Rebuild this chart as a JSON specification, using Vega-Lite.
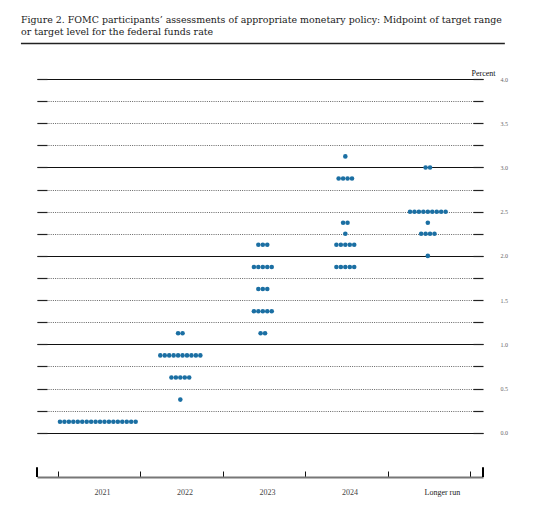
{
  "$schema": "https://vega.github.io/schema/vega-lite/v6.json",
  "width": 446,
  "height": 398,
  "autosize": {"type": "none"},
  "padding": {"left": 37, "top": 79, "right": 53, "bottom": 36},
  "background": "#ffffff",
  "title": {
    "text": ["Figure 2.  FOMC participants’ assessments of appropriate monetary policy:  Midpoint of target range", "or target level for the federal funds rate"],
    "anchor": "start",
    "frame": "group",
    "dx": -16,
    "offset": 5,
    "font": "DejaVu Serif",
    "fontSize": 9.45,
    "fontWeight": "normal",
    "lineHeight": 12,
    "color": "#1a1a1a"
  },
  "config": {"view": {"stroke": null}, "font": "Liberation Serif"},
  "resolve": {"scale": {"x": "independent"}, "axis": {"x": "independent", "y": "independent"}},
  "layer": [
    {
      "data": {"values": [
        {"period": "2021", "rate": 0.125}, {"period": "2021", "rate": 0.125}, {"period": "2021", "rate": 0.125},
        {"period": "2021", "rate": 0.125}, {"period": "2021", "rate": 0.125}, {"period": "2021", "rate": 0.125},
        {"period": "2021", "rate": 0.125}, {"period": "2021", "rate": 0.125}, {"period": "2021", "rate": 0.125},
        {"period": "2021", "rate": 0.125}, {"period": "2021", "rate": 0.125}, {"period": "2021", "rate": 0.125},
        {"period": "2021", "rate": 0.125}, {"period": "2021", "rate": 0.125}, {"period": "2021", "rate": 0.125},
        {"period": "2021", "rate": 0.125}, {"period": "2021", "rate": 0.125}, {"period": "2021", "rate": 0.125},
        {"period": "2022", "rate": 1.125}, {"period": "2022", "rate": 1.125},
        {"period": "2022", "rate": 0.875}, {"period": "2022", "rate": 0.875}, {"period": "2022", "rate": 0.875},
        {"period": "2022", "rate": 0.875}, {"period": "2022", "rate": 0.875}, {"period": "2022", "rate": 0.875},
        {"period": "2022", "rate": 0.875}, {"period": "2022", "rate": 0.875}, {"period": "2022", "rate": 0.875},
        {"period": "2022", "rate": 0.875},
        {"period": "2022", "rate": 0.625}, {"period": "2022", "rate": 0.625}, {"period": "2022", "rate": 0.625},
        {"period": "2022", "rate": 0.625}, {"period": "2022", "rate": 0.625},
        {"period": "2022", "rate": 0.375},
        {"period": "2023", "rate": 2.125}, {"period": "2023", "rate": 2.125}, {"period": "2023", "rate": 2.125},
        {"period": "2023", "rate": 1.875}, {"period": "2023", "rate": 1.875}, {"period": "2023", "rate": 1.875},
        {"period": "2023", "rate": 1.875}, {"period": "2023", "rate": 1.875},
        {"period": "2023", "rate": 1.625}, {"period": "2023", "rate": 1.625}, {"period": "2023", "rate": 1.625},
        {"period": "2023", "rate": 1.375}, {"period": "2023", "rate": 1.375}, {"period": "2023", "rate": 1.375},
        {"period": "2023", "rate": 1.375}, {"period": "2023", "rate": 1.375},
        {"period": "2023", "rate": 1.125}, {"period": "2023", "rate": 1.125},
        {"period": "2024", "rate": 3.125},
        {"period": "2024", "rate": 2.875}, {"period": "2024", "rate": 2.875}, {"period": "2024", "rate": 2.875},
        {"period": "2024", "rate": 2.875},
        {"period": "2024", "rate": 2.375}, {"period": "2024", "rate": 2.375},
        {"period": "2024", "rate": 2.25},
        {"period": "2024", "rate": 2.125}, {"period": "2024", "rate": 2.125}, {"period": "2024", "rate": 2.125},
        {"period": "2024", "rate": 2.125}, {"period": "2024", "rate": 2.125},
        {"period": "2024", "rate": 1.875}, {"period": "2024", "rate": 1.875}, {"period": "2024", "rate": 1.875},
        {"period": "2024", "rate": 1.875}, {"period": "2024", "rate": 1.875},
        {"period": "Longer run", "rate": 3.0}, {"period": "Longer run", "rate": 3.0},
        {"period": "Longer run", "rate": 2.5}, {"period": "Longer run", "rate": 2.5}, {"period": "Longer run", "rate": 2.5},
        {"period": "Longer run", "rate": 2.5}, {"period": "Longer run", "rate": 2.5}, {"period": "Longer run", "rate": 2.5},
        {"period": "Longer run", "rate": 2.5}, {"period": "Longer run", "rate": 2.5}, {"period": "Longer run", "rate": 2.5},
        {"period": "Longer run", "rate": 2.375},
        {"period": "Longer run", "rate": 2.25}, {"period": "Longer run", "rate": 2.25}, {"period": "Longer run", "rate": 2.25},
        {"period": "Longer run", "rate": 2.25},
        {"period": "Longer run", "rate": 2.0}
      ]},
      "transform": [
        {"window": [{"op": "count", "as": "one"}], "frame": [0, 0]},
        {"stack": "one", "groupby": ["period", "rate"], "offset": "center", "as": ["s0", "s1"]}
      ],
      "mark": {"type": "circle", "size": 21, "color": "#1b6fa3", "opacity": 1},
      "encoding": {
        "x": {
          "field": "period",
          "type": "nominal",
          "sort": ["2021", "2022", "2023", "2024", "Longer run"],
          "scale": {"paddingInner": 0, "paddingOuter": 0.203, "align": 0.62},
          "axis": {
            "orient": "bottom",
            "title": null,
            "tickBand": "extent",
            "tickSize": -6,
            "tickColor": "#111111",
            "tickWidth": 1,
            "domainColor": "#777777",
            "domainWidth": 2,
            "labelAngle": 0,
            "labelAlign": "left",
            "labelOffset": -5,
            "labelFont": "Liberation Serif",
            "labelFontSize": 8,
            "labelColor": {"condition": {"test": "datum.value === 'Longer run'", "value": "#222222"}, "value": "#444444"},
            "labelPadding": 17
          }
        },
        "xOffset": {"field": "s0", "type": "quantitative", "scale": {"domain": [-9.77, 8.77], "range": [-41.25, 41.25], "nice": false, "zero": false}},
        "y": {
          "field": "rate",
          "type": "quantitative",
          "scale": {"domain": [-0.5, 4], "nice": false, "zero": false},
          "axis": {
            "orient": "left",
            "title": null,
            "values": [0, 0.25, 0.5, 0.75, 1, 1.25, 1.5, 1.75, 2, 2.25, 2.5, 2.75, 3, 3.25, 3.5, 3.75, 4],
            "grid": true,
            "gridColor": {"condition": {"test": "datum.value % 1 === 0", "value": "#111111"}, "value": "#666666"},
            "gridDash": {"condition": {"test": "datum.value % 1 === 0", "value": []}, "value": [1, 1.2]},
            "gridWidth": 1,
            "tickSize": -10,
            "tickColor": "#222222",
            "tickWidth": 1.2,
            "labels": false,
            "domain": false
          }
        }
      }
    },
    {
      "data": {"values": [{}]},
      "mark": {"type": "rule", "color": "#000000", "strokeWidth": 2},
      "encoding": {
        "x": {"datum": 0, "type": "quantitative", "scale": {"domain": [0, 1], "nice": false, "zero": false}, "axis": null},
        "y": {
          "datum": -0.5,
          "type": "quantitative",
          "scale": {"domain": [-0.5, 4], "nice": false, "zero": false},
          "axis": {
            "orient": "right",
            "values": [0, 0.25, 0.5, 0.75, 1, 1.25, 1.5, 1.75, 2, 2.25, 2.5, 2.75, 3, 3.25, 3.5, 3.75, 4],
            "grid": false,
            "domain": false,
            "tickSize": -10,
            "tickColor": "#222222",
            "tickWidth": 1.2,
            "labelExpr": "datum.value % 0.5 === 0 ? format(datum.value, '.1f') : ''",
            "labelOverlap": false,
            "labelBound": false,
            "labelFont": "Liberation Serif",
            "labelFontSize": 6,
            "labelColor": "#666666",
            "labelPadding": 27,
            "title": "Percent",
            "titleAngle": 0,
            "titleX": 12,
            "titleY": -4,
            "titleAlign": "right",
            "titleBaseline": "alphabetic",
            "titleFont": "Liberation Serif",
            "titleFontSize": 8,
            "titleFontWeight": "normal",
            "titleColor": "#111111"
          }
        },
        "y2": {"datum": -0.39}
      }
    },
    {
      "data": {"values": [{}]},
      "mark": {"type": "rule", "color": "#000000", "strokeWidth": 2},
      "encoding": {
        "x": {"datum": 1, "type": "quantitative", "scale": {"domain": [0, 1], "nice": false, "zero": false}, "axis": null},
        "y": {"datum": -0.5, "type": "quantitative", "axis": null},
        "y2": {"datum": -0.39}
      }
    },
    {
      "data": {"values": [{}]},
      "mark": {"type": "rule", "color": "#222222", "strokeWidth": 1.5},
      "encoding": {
        "x": {"datum": -0.036, "type": "quantitative", "scale": {"domain": [0, 1], "nice": false, "zero": false}, "axis": null},
        "x2": {"datum": 1.049},
        "y": {"datum": 4.4, "type": "quantitative", "axis": null}
      }
    }
  ]
}
